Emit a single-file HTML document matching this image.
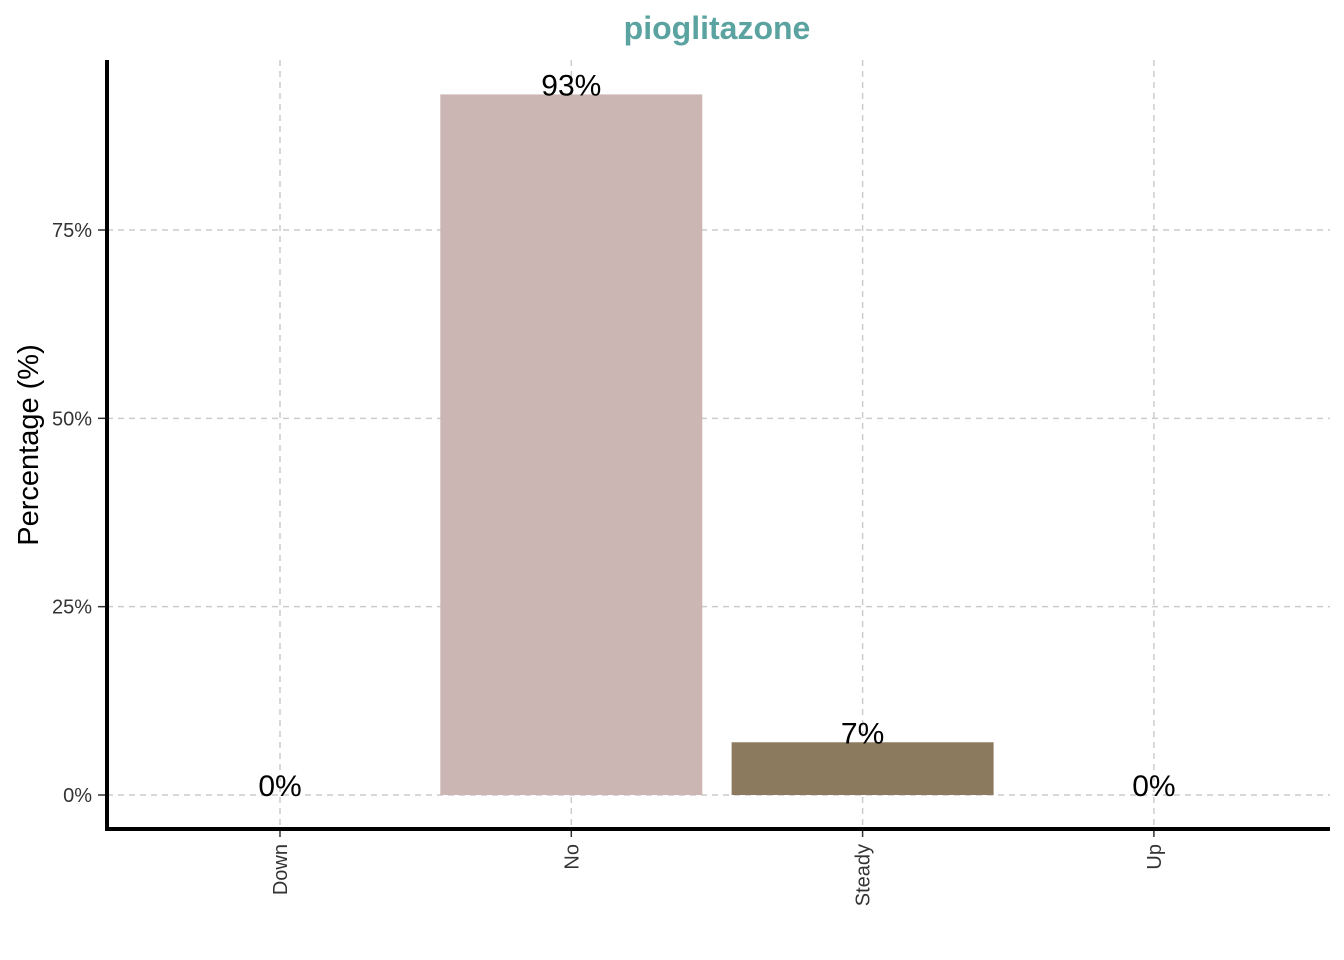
<!DOCTYPE html>
<html><head><meta charset="utf-8"><style>
body{margin:0;background:#fff;}
svg{display:block;font-family:"Liberation Sans",Arial,sans-serif;}
</style></head><body>
<svg id="chart" width="1344" height="960">
<text x="717" y="39" text-anchor="middle" font-size="32" font-weight="bold" fill="#5ba3a0">pioglitazone</text>
<text transform="translate(38,445) rotate(-90)" text-anchor="middle" font-size="29" fill="#000">Percentage (%)</text>
<g id="grid"></g><g id="bars"></g><g id="labels"></g><g id="axes"></g>
</svg>
<script>
const categories=["Down","No","Steady","Up"];
const values=[0,93,7,0];
const valueLabels=["0%","93%","7%","0%"];
const colors=["#cbb6b4","#cbb6b4","#8b7a5e","#8b7a5e"];
const yTicks=[0,25,50,75];
const yTickLabels=["0%","25%","50%","75%"];
const NS="http://www.w3.org/2000/svg";
const x0=280,step=291.3,bw=262;
const xScale=i=>x0+i*step;
const yScale=v=>795-v*(565/75);
function mk(tag,attrs,parent,text){const e=document.createElementNS(NS,tag);for(const k in attrs)e.setAttribute(k,attrs[k]);if(text!==undefined)e.textContent=text;document.getElementById(parent).appendChild(e);return e;}
yTicks.forEach((t,i)=>{
 const y=yScale(t);
 const g=mk("line",{x1:107,x2:1330,y1:y,y2:y,stroke:"#cccccc","stroke-width":1.5,"stroke-dasharray":"6,5"},"grid");
 
 
 const tk=mk("line",{x1:98,x2:105,y1:y,y2:y,stroke:"#333","stroke-width":1.5},"axes");
 
 
 const tl=mk("text",{x:92,y:y+7,"text-anchor":"end","font-size":20,fill:"#333"},"axes",yTickLabels[i]);
 
 
});
categories.forEach((c,i)=>{
 const x=xScale(i);
 const g=mk("line",{x1:x,x2:x,y1:60,y2:829,stroke:"#cccccc","stroke-width":1.5,"stroke-dasharray":"6,5"},"grid");
 
 
 const b=mk("rect",{x:x-bw/2,y:yScale(values[i]),width:bw,height:yScale(0)-yScale(values[i]),fill:colors[i]},"bars");
 
 
 const l=mk("text",{x:x,y:yScale(values[i])+1,"text-anchor":"middle","font-size":30,fill:"#000"},"labels",valueLabels[i]);
 
 
 const tk=mk("line",{x1:x,x2:x,y1:830,y2:837,stroke:"#333","stroke-width":1.5},"axes");
 
 
 const tl=mk("text",{transform:`translate(${x+7},844) rotate(-90)`,"text-anchor":"end","font-size":20,fill:"#333"},"axes",c);
 
 
});
const ya=mk("line",{x1:107,x2:107,y1:60,y2:831,stroke:"#000","stroke-width":4},"axes");


const xa=mk("line",{x1:105,x2:1330,y1:829,y2:829,stroke:"#000","stroke-width":4},"axes");


</script>
</body></html>
